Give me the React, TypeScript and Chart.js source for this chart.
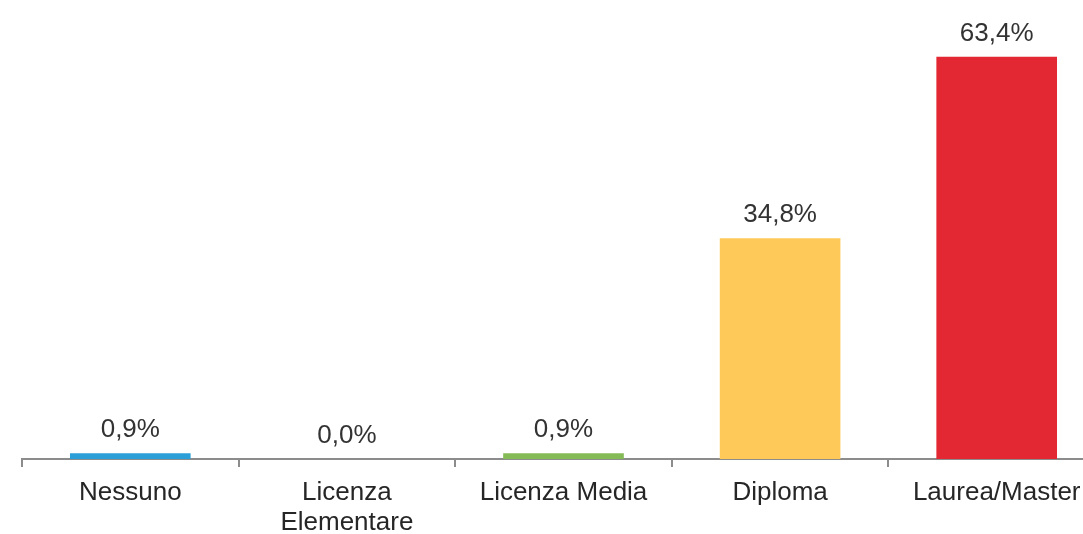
import React, { useEffect, useRef } from "react";
import { Chart, registerables } from "chart.js";

Chart.register(...registerables);

const categories: (string | string[])[] = [
  "Nessuno",
  ["Licenza", "Elementare"],
  "Licenza Media",
  "Diploma",
  "Laurea/Master",
];
const values: number[] = [0.9, 0.0, 0.9, 34.8, 63.4];
const barColors: string[] = ["#2d9fd8", "#2d9fd8", "#84bb57", "#ffc95a", "#e32833"];

const FONT = "'Liberation Sans', Arial, sans-serif";

const valueLabels = {
  id: "valueLabels",
  afterDatasetsDraw(chart: any) {
    const ctx = chart.ctx;
    const meta = chart.getDatasetMeta(0);
    ctx.save();
    ctx.font = `26px ${FONT}`;
    ctx.fillStyle = "#333333";
    ctx.textAlign = "center";
    ctx.textBaseline = "middle";
    meta.data.forEach((bar: any, i: number) => {
      const txt = values[i].toFixed(1).replace(".", ",") + "%";
      ctx.fillText(txt, bar.x, bar.y - 23.5);
    });
    ctx.restore();
  },
};

export default function App() {
  const ref = useRef<HTMLCanvasElement>(null);
  useEffect(() => {
    if (!ref.current) return;
    const chart = new Chart(ref.current, {
      type: "bar",
      data: {
        labels: categories,
        datasets: [
          {
            data: values,
            backgroundColor: barColors,
            borderWidth: 0,
            barPercentage: 0.557,
            categoryPercentage: 1,
          },
        ],
      },
      options: {
        responsive: false,
        animation: false,
        devicePixelRatio: 1,
        layout: { padding: { left: 22, right: 25, top: 15, bottom: 0 } },
        plugins: {
          legend: { display: false },
          tooltip: { enabled: false },
        },
        scales: {
          y: {
            display: false,
            min: 0,
            max: 70,
          },
          x: {
            afterFit: (scale: any) => {
              scale.height = 75;
            },
            grid: {
              display: true,
              drawOnChartArea: false,
              drawTicks: true,
              tickLength: 8,
              color: "#8c8c8c",
              lineWidth: 2,
              offset: true,
            },
            border: { display: true, color: "#8c8c8c", width: 2 },
            ticks: {
              color: "#262626",
              font: { family: FONT, size: 26, lineHeight: 1.15 },
              padding: 11,
              maxRotation: 0,
              autoSkip: false,
            },
          },
        },
      },
      plugins: [valueLabels],
    });
    return () => chart.destroy();
  }, []);
  return (
    <div
      style={{
        position: "fixed",
        left: 0,
        top: 0,
        width: 1083,
        height: 534,
        overflow: "hidden",
        background: "#ffffff",
      }}
    >
      <canvas
        ref={ref}
        width={1130}
        height={534}
        style={{ width: 1130, height: 534, display: "block" }}
      />
    </div>
  );
}
